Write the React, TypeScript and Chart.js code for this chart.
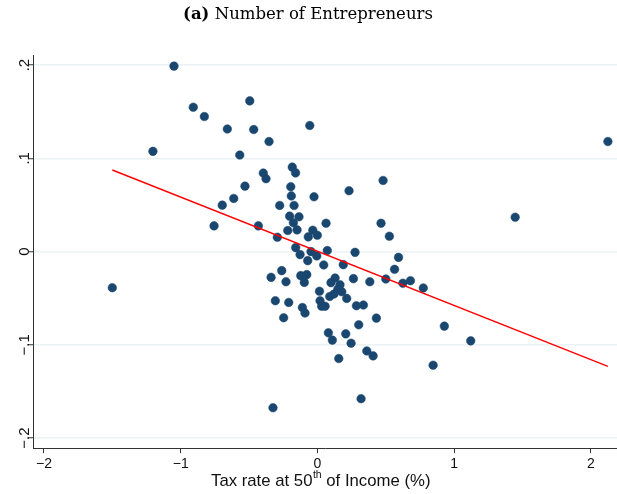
import React, { useEffect, useRef } from "react";
import { Chart, registerables } from "chart.js";

Chart.register(...registerables);

const titleBold = "(a)";
const titleRest = " Number of Entrepreneurs";
const xTitleMain = "Tax rate at 50";
const xTitleSup = "th";
const xTitleEnd = " of Income (%)";

const xTicks = [-2, -1, 0, 1, 2];
const yTicks = [0.2, 0.1, 0, -0.1, -0.2];
const yTickLabels = [".2", ".1", "0", "\u2212.1", "\u2212.2"];

const taxRate = [
  -1.049, -0.908, -0.827, -0.495, -0.659, -0.466, -0.354, -1.203, -0.568, -0.184,
  -0.16, -0.396, -0.376, -0.53, -0.612, -0.696, -0.195, -0.191, -0.276, -0.171,
  -0.025, 0.231, 0.48, -0.756, -0.432, -0.203, -0.135, -0.176, -0.217, -0.149,
  0.063, -0.034, -0.001, -0.067, -0.293, 0.465, 0.526, -0.159, -0.047, -0.005,
  -0.127, 0.072, -0.071, 0.046, 0.275, 0.189, 0.593, 0.564, 0.5, 0.383,
  0.263, -0.261, -0.339, -0.23, -0.122, -0.078, -0.096, 0.129, 0.099, 0.165,
  0.149, 0.015, 0.178, 0.121, 0.09, 0.214, -0.308, -0.21, -0.11, 0.019,
  0.031, 0.056, 0.285, 0.336, 0.625, 0.68, 0.774, -0.091, -0.247, 0.302,
  0.431, 0.08, 0.207, 0.109, 0.246, 0.361, 0.407, 0.156, 0.928, 0.846,
  0.319, -0.325, 1.446, 1.121, -0.056, 2.124, -1.5,
];
const entrepreneurs = [
  0.1989, 0.1548, 0.1448, 0.1616, 0.1315, 0.1309, 0.118, 0.1075, 0.1035, 0.0906,
  0.0844, 0.0842, 0.0782, 0.0702, 0.057, 0.0498, 0.0696, 0.0597, 0.0495, 0.0495,
  0.0588, 0.0653, 0.0763, 0.0276, 0.0276, 0.038, 0.0373, 0.0309, 0.0226, 0.0233,
  0.0304, 0.0229, 0.0175, 0.0158, 0.0154, 0.0304, 0.0165, 0.0043, 0.0, -0.0046,
  -0.0032, 0.0011, -0.0097, -0.0143, -0.0008, -0.014, -0.0062, -0.019, -0.0294, -0.0323,
  -0.029, -0.0204, -0.0276, -0.0323, -0.0258, -0.0247, -0.033, -0.0283, -0.0333, -0.0355,
  -0.0405, -0.0425, -0.043, -0.0455, -0.0481, -0.0502, -0.0527, -0.0545, -0.0599, -0.0527,
  -0.0586, -0.0586, -0.0581, -0.0573, -0.0339, -0.0312, -0.039, -0.0659, -0.071, -0.0785,
  -0.0713, -0.0871, -0.0882, -0.0949, -0.0982, -0.1065, -0.1118, -0.1147, -0.0799, -0.1218,
  -0.1577, -0.1674, 0.0369, -0.0957, 0.1352, 0.118, -0.0387,
];
const fitX = [-1.5, 2.124];
const fitY = [0.0875, -0.1231];

const fmt = (v: number) => (v < 0 ? "\u2212" + Math.abs(v) : String(v));

const overlayPlugin = {
  id: "overlay",
  afterDraw(chart: any) {
    const ctx = chart.ctx as CanvasRenderingContext2D;
    const { left } = chart.chartArea;
    const ys = chart.scales.y;
    ctx.save();
    // y tick labels (rotated)
    ctx.fillStyle = "#111";
    ctx.font = '15px "Liberation Sans", Arial, sans-serif';
    ctx.textAlign = "center";
    ctx.textBaseline = "alphabetic";
    yTicks.forEach((v, i) => {
      const py = ys.getPixelForValue(v);
      ctx.save();
      ctx.translate(left - 4, py);
      ctx.rotate(-Math.PI / 2);
      ctx.fillText(yTickLabels[i], 0, 0);
      ctx.restore();
    });
    // title, sized to the reference's width
    const fam = '"DejaVu Serif", serif';
    ctx.font = `bold 15px ${fam}`;
    const wb0 = ctx.measureText(titleBold).width;
    ctx.font = `15px ${fam}`;
    const wr0 = ctx.measureText(titleRest).width;
    const tSize = (15 * 250) / (wb0 + wr0);
    const boldFont = `bold ${tSize}px ${fam}`;
    const normFont = `${tSize}px ${fam}`;
    ctx.font = boldFont;
    const wb = ctx.measureText(titleBold).width;
    ctx.font = normFont;
    const wr = ctx.measureText(titleRest).width;
    const tx = 308 - (wb + wr) / 2;
    ctx.textAlign = "left";
    ctx.textBaseline = "alphabetic";
    ctx.fillStyle = "#000";
    ctx.font = boldFont;
    ctx.fillText(titleBold, tx, 18.5);
    ctx.font = normFont;
    ctx.fillText(titleRest, tx + wb, 18.5);
    // x axis title with superscript
    const sfam = '"Liberation Sans", Arial, sans-serif';
    ctx.font = `16px ${sfam}`;
    const a0 = ctx.measureText(xTitleMain).width + ctx.measureText(xTitleEnd).width;
    ctx.font = `10px ${sfam}`;
    const b0 = ctx.measureText(xTitleSup).width;
    const k = 219 / (a0 + b0);
    const mainFont = `${16 * k}px ${sfam}`;
    const supFont = `${10 * k}px ${sfam}`;
    ctx.font = mainFont;
    const w1 = ctx.measureText(xTitleMain).width;
    const w3 = ctx.measureText(xTitleEnd).width;
    ctx.font = supFont;
    const w2 = ctx.measureText(xTitleSup).width;
    const bx = 320.5 - (w1 + w2 + w3) / 2;
    const by = 486;
    ctx.fillStyle = "#111";
    ctx.font = mainFont;
    ctx.fillText(xTitleMain, bx, by);
    ctx.font = supFont;
    ctx.fillText(xTitleSup, bx + w1 + 0.5, by - 8);
    ctx.font = mainFont;
    ctx.fillText(xTitleEnd, bx + w1 + w2 + 0.5, by);
    ctx.restore();
  },
};

export default function App() {
  const ref = useRef<HTMLCanvasElement | null>(null);
  useEffect(() => {
    if (!ref.current) return;
    const chart = new Chart(ref.current, {
      type: "scatter",
      data: {
        datasets: [
          {
            type: "line",
            data: fitX.map((x, i) => ({ x, y: fitY[i] })),
            borderColor: "#ff0000",
            borderWidth: 1.4,
            pointRadius: 0,
            fill: false,
            order: 0,
          } as any,
          {
            type: "scatter",
            data: taxRate.map((x, i) => ({ x, y: entrepreneurs[i] })),
            backgroundColor: "#1a476f",
            borderColor: "#1a476f",
            borderWidth: 0.5,
            pointRadius: 4.3,
            order: 1,
          },
        ],
      },
      options: {
        responsive: false,
        animation: false,
        layout: { padding: { left: 28, top: 55, right: 0, bottom: 18 } },
        plugins: {
          legend: { display: false },
          tooltip: { enabled: false },
          title: { display: false },
        },
        scales: {
          x: {
            type: "linear",
            min: -2.08,
            max: 2.192,
            afterBuildTicks: (s: any) => {
              s.ticks = xTicks.map((v) => ({ value: v }));
            },
            ticks: {
              callback: (v: any) => fmt(Number(v)),
              color: "#111",
              font: { family: '"Liberation Sans", Arial, sans-serif', size: 14 },
              padding: 3,
              maxRotation: 0,
              autoSkip: false,
            },
            grid: {
              drawOnChartArea: false,
              drawTicks: true,
              tickLength: 5,
              tickColor: "#333",
              tickWidth: 1,
            },
            border: { display: true, color: "#333", width: 1 },
          },
          y: {
            type: "linear",
            min: -0.2108,
            max: 0.2108,
            afterBuildTicks: (s: any) => {
              s.ticks = yTicks.map((v) => ({ value: v }));
            },
            ticks: { display: false },
            grid: {
              color: "#eaf2f3",
              lineWidth: 1.5,
              drawTicks: true,
              tickLength: 5,
              tickColor: "#333",
              tickWidth: 1,
            },
            border: { display: true, color: "#333", width: 1 },
          },
        },
      },
      plugins: [overlayPlugin],
    });
    return () => chart.destroy();
  }, []);
  return (
    <div style={{ position: "fixed", left: 0, top: 0, width: 622, height: 494, background: "#fff" }}>
      <canvas ref={ref} width={622} height={494} />
    </div>
  );
}
